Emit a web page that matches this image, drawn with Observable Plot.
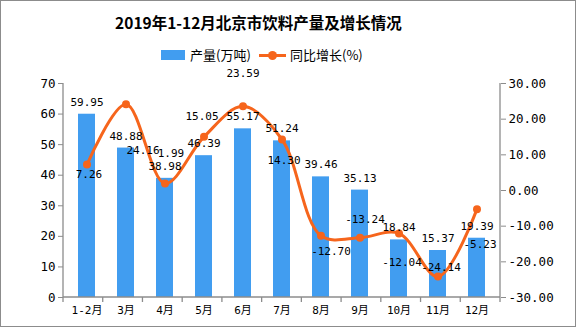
<!DOCTYPE html>
<html><head><meta charset="utf-8">
<script src="https://cdn.jsdelivr.net/npm/d3@7"></script>
<script src="https://cdn.jsdelivr.net/npm/@observablehq/plot@0.6"></script>
<style>
html,body{margin:0;padding:0;background:#fff;}
#wrap{width:576px;height:327px;box-sizing:border-box;border:1px solid #8c8c8c;position:relative;overflow:hidden;background:#fff;}
#title{position:absolute;left:0;width:515px;top:11px;line-height:20px;text-align:center;font-family:"Noto Sans CJK SC",sans-serif;font-weight:700;font-size:15.5px;color:#000;white-space:nowrap;}
.lg{position:absolute;}
.lgtext{position:absolute;top:46px;line-height:16px;font-family:"Noto Sans CJK SC",sans-serif;font-size:13px;color:#000;white-space:nowrap;}
#chart{position:absolute;left:0;top:67px;}
</style></head>
<body>
<div id="wrap">
  <div id="title">2019年1-12月北京市饮料产量及增长情况</div>
  <div class="lg" style="left:160px;top:49px;width:24px;height:10px;background:#419DF0"></div>
  <div class="lgtext" style="left:189px">产量(万吨)</div>
  <div class="lg" style="left:258px;top:53px;width:27px;height:3px;background:#F6651C"></div>
  <div class="lg" style="left:267px;top:50px;width:9px;height:9px;border-radius:50%;background:#F6651C"></div>
  <div class="lgtext" style="left:289px">同比增长(%)</div>
  <div id="chart"></div>
</div>
<script>
const months = ["1-2月","3月","4月","5月","6月","7月","8月","9月","10月","11月","12月"];
const output = [59.95,48.88,38.98,46.39,55.17,51.24,39.46,35.13,18.84,15.37,19.39];
const growth = [7.26,24.16,1.99,15.05,23.59,14.30,-12.70,-13.24,-12.04,-24.14,-5.23];
const leftTicks = [0,10,20,30,40,50,60,70];
const rightTicks = [-30,-20,-10,0,10,20,30];
// label nudges (pixels) for the growth labels, as placed in the original
const growthLabelDx = [2,17,6,-2,0,2,10,5,3,3,3];
const growthLabelDy = [10,46,-30,-20,-33,21,16,-18,29,-9,35];

const BLUE = "#419DF0", ORANGE = "#F6651C", AXIS = "#8c8c8c";
const MONO = "'DejaVu Sans Mono','Noto Sans CJK SC',monospace";

const data = months.map((m, i) => ({month: m, output: output[i], growth: growth[i], i}));
const g2y = g => (g + 30) * 70 / 60;
const y2g = y => y * 60 / 70 - 30;

function axisLines(index, scales, values, dims) {
  const {width, marginLeft: ml, marginRight: mr} = dims;
  const x0 = ml, x1 = width - mr;
  const yb = scales.y(0), yt = scales.y(70);
  const n = months.length, step = (x1 - x0) / n;
  const g = d3.create("svg:g").attr("stroke", AXIS).attr("fill", "none").attr("stroke-width", 1.3);
  g.append("line").attr("x1", x0).attr("x2", x0).attr("y1", yt).attr("y2", yb);
  g.append("line").attr("x1", x1).attr("x2", x1).attr("y1", yt).attr("y2", yb);
  g.append("line").attr("x1", x0).attr("x2", x1).attr("y1", yb).attr("y2", yb);
  for (let i = 0; i <= n; i++) {
    const x = x0 + i * step;
    g.append("line").attr("x1", x).attr("x2", x).attr("y1", yb).attr("y2", yb + 5);
  }
  return g.node();
}

const marks = [
  Plot.barY(data, {x: "month", y: "output", fill: BLUE}),
  axisLines,
  Plot.axisY(leftTicks, {anchor: "left", tickSize: 5, tickPadding: 3, stroke: AXIS, fill: "#000", fontSize: 12.5, label: null}),
  Plot.axisY(rightTicks.map(g2y), {anchor: "right", tickSize: 5, tickPadding: 3, stroke: AXIS, fill: "#000", fontSize: 12.5, tickFormat: d => y2g(d).toFixed(2), label: null}),
  Plot.axisX({tickSize: 0, tickPadding: 9, fill: "#000", fontSize: 11, label: null}),
  Plot.line(data, {x: "month", y: d => g2y(d.growth), curve: "catmull-rom", stroke: ORANGE, strokeWidth: 3}),
  Plot.dot(data, {x: "month", y: d => g2y(d.growth), r: 4, fill: ORANGE, stroke: "none"}),
  Plot.text(data, {x: "month", y: "output", text: d => d.output.toFixed(2), dy: -12, fontSize: 11, fill: "#000"}),
  ...data.map((d, i) => Plot.text([d], {x: "month", y: e => g2y(e.growth), text: e => e.growth.toFixed(2), dx: growthLabelDx[i], dy: growthLabelDy[i], fontSize: 11, fill: "#000"}))
];

const chart = Plot.plot({
  width: 574, height: 258,
  marginTop: 15, marginBottom: 29, marginLeft: 62, marginRight: 75,
  style: {fontFamily: MONO, fontSize: "12px", color: "#000", background: "transparent", overflow: "visible"},
  x: {domain: months, paddingInner: 0.57, paddingOuter: 0.285, axis: null},
  y: {domain: [0, 70], axis: null},
  marks
});
document.getElementById("chart").appendChild(chart);
</script>
</body></html>
